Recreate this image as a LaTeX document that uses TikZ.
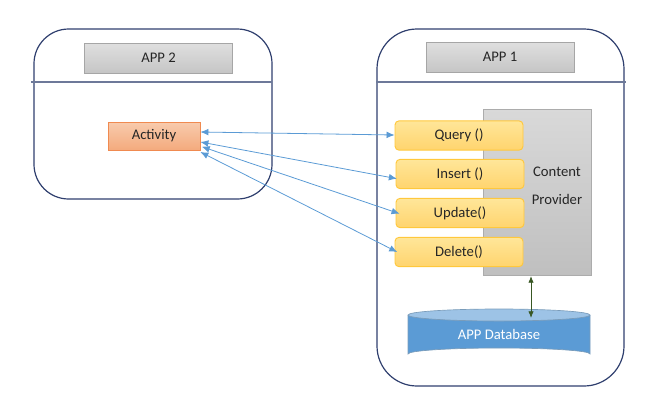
\documentclass[tikz,border=0pt]{standalone}
\usepackage{fontspec}
\setmainfont{Carlito}
\usetikzlibrary{arrows.meta,shapes.geometric}
\definecolor{navy}{HTML}{2F3F6E}
\definecolor{arrowblue}{HTML}{5B9BD5}
\definecolor{dbblue}{HTML}{5B9BD5}
\definecolor{dbtop}{HTML}{9DC3E6}
\definecolor{dbedge}{HTML}{41719C}
\definecolor{darkgreen}{HTML}{385723}
\definecolor{actedge}{HTML}{F08A50}
\definecolor{txt}{HTML}{262626}
\tikzset{
  lbl/.style={font=\fontsize{11}{13}\selectfont, text=txt},
  appbox/.style={draw=navy, line width=0.9pt, rounded corners=26pt},
  divider/.style={draw=navy!70, line width=0.8pt},
  header/.style={lbl, draw=gray!70, top color=gray!25, bottom color=gray!45, line width=0.6pt, minimum width=111pt, minimum height=22.5pt, inner sep=0pt},
  activity/.style={lbl, draw=actedge, top color={rgb,255:red,248;green,203;blue,173}, bottom color={rgb,255:red,244;green,170;blue,125}, line width=0.6pt, minimum width=69pt, minimum height=21pt, inner sep=0pt},
  method/.style={lbl, draw={rgb,255:red,255;green,200;blue,60}, top color={rgb,255:red,255;green,230;blue,153}, bottom color={rgb,255:red,255;green,212;blue,110}, line width=0.7pt, rounded corners=3pt, minimum width=96pt, minimum height=22pt, inner sep=0pt},
  provider/.style={draw=gray!65, top color=gray!30, bottom color=gray!50, line width=0.6pt, inner sep=0pt},
  link/.style={draw=arrowblue, line width=0.6pt, {Latex[length=6pt,width=5pt]}-{Latex[length=6pt,width=5pt]}},
}
\begin{document}
\begin{tikzpicture}[x=0.75pt,y=-0.75pt]
\useasboundingbox (0,0) rectangle (652,415);
% outer app boxes
\draw[appbox] (34,29) rectangle (272,199);
\draw[appbox, rounded corners=30pt] (377,29) rectangle (624,386);
\draw[divider] (31,82) -- (272,82);
\draw[divider] (376,82) -- (626,82);
% headers
\node[header] (app2) at (158.5,58) {APP 2};
\node[header] (app1) at (500,57) {APP 1};
% content provider
\node[provider, minimum width=81pt, minimum height=124pt] (cp) at (537,192.5) {};
\node[lbl, align=center] (cptext) at (557,186) {Content\\[8pt]Provider};
% activity
\node[activity] (act) at (154,136) {Activity};
% methods
\node[method] (q) at (459,135.5) {Query ()};
\node[method] (i) at (460,174) {Insert ()};
\node[method] (u) at (460,213) {Update()};
\node[method] (d) at (459,252) {Delete()};
% database
\coordinate (dbtopc) at (499,315);
\fill[dbblue] (408,315) -- (408,354) arc[start angle=180,end angle=360,x radius=91,y radius=6] -- (590,315) -- cycle;
\draw[dbedge!70, line width=0.5pt] (408,315) -- (408,354) arc[start angle=180,end angle=360,x radius=91,y radius=6] -- (590,315);
\draw[dbedge!70, fill=dbtop, line width=0.5pt] (dbtopc) ellipse[x radius=91, y radius=6];
\node[text=white, font=\fontsize{11}{13}\selectfont] (db) at (499,334) {APP Database};
\coordinate (dbin) at (531,318);
\coordinate (cpout) at (531,276);
\draw[darkgreen, line width=0.6pt, {Latex[length=5pt,width=4pt]}-{Latex[length=5pt,width=4pt]}] (cpout) -- (dbin);
% connectors
\draw[link] (act.east |- 0,132) -- (q.west |- 0,135);
\draw[link] ([yshift=-4.5pt]act.east) -- ([xshift=1pt,yshift=-3.5pt]i.west);
\draw[link] ([xshift=1pt,yshift=-8pt]act.east) -- ([xshift=3pt,yshift=-0.5pt]u.west);
\draw[link] ([yshift=-12pt]act.east) -- ([xshift=2pt,yshift=0pt]d.west);
\end{tikzpicture}
\end{document}
